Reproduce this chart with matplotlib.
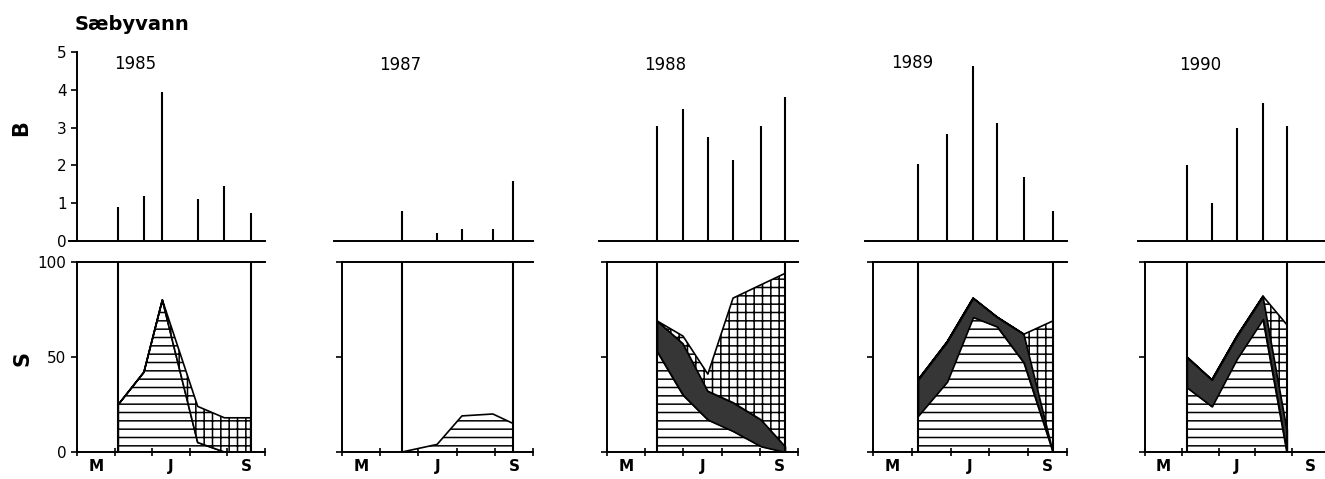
import matplotlib.pyplot as plt
import numpy as np

# x in months: 5 = 1 May ... 10 = 1 Oct
years = ['1985', '1987', '1988', '1989', '1990']

dates_1985 = [6.10, 6.78, 7.27, 8.21, 8.92, 9.62]
dates_1987 = [6.57, 7.49, 8.14, 8.95, 9.48]
dates_1988 = [6.31, 6.99, 7.64, 8.30, 9.03, 9.66]
dates_1989 = [6.16, 6.91, 7.58, 8.20, 8.89, 9.64]
dates_1990 = [6.14, 6.82, 7.50, 8.21, 8.86]

# B (upper panels)
B_1985 = [0.9, 1.2, 3.95, 1.1, 1.45, 0.75]
B_1987 = [0.8, 0.22, 0.32, 0.32, 1.58]
B_1988 = [3.05, 3.5, 2.75, 2.15, 3.05, 3.8]
B_1989 = [2.05, 2.82, 4.62, 3.12, 1.7, 0.8]
B_1990 = [2.02, 1.0, 2.98, 3.65, 3.05]

# S (lower panels), stacked: horizontal hatch / dark / cross hatch
H_1985 = [25, 42, 80, 5, 0, 0]
D_1985 = [0, 0, 0, 0, 0, 0]
C_1985 = [0, 0, 0, 19, 18, 18]

H_1987 = [0, 4, 19, 20, 15]
D_1987 = [0, 0, 0, 0, 0]
C_1987 = [0, 0, 0, 0, 0]

H_1988 = [53, 30, 17, 11, 3, 0]
D_1988 = [16, 27, 15, 15, 14, 3]
C_1988 = [0, 4, 9, 55, 71, 91]

H_1989 = [19, 37, 71, 66, 47, 0]
D_1989 = [19, 21, 10, 5, 15, 0]
C_1989 = [0, 0, 0, 0, 0, 69]

H_1990 = [34, 24, 49, 70, 0]
D_1990 = [16, 14, 12, 12, 12]
C_1990 = [0, 0, 0, 0, 55]

dates = [dates_1985, dates_1987, dates_1988, dates_1989, dates_1990]
bvals = [B_1985, B_1987, B_1988, B_1989, B_1990]
hvals = [H_1985, H_1987, H_1988, H_1989, H_1990]
dvals = [D_1985, D_1987, D_1988, D_1989, D_1990]
cvals = [C_1985, C_1987, C_1988, C_1989, C_1990]

plt.rcParams['hatch.linewidth'] = 1.1

W, HT = 1325, 479
fig = plt.figure(figsize=(W / 100, HT / 100), dpi=100)

# panel placement in pixels
x0_px = [77, 342, 607, 873, 1145]
month_px = [37.6, 38.2, 38.2, 38.8, 36.75]
year_xy = [(135, 64), (400, 65), (665, 65), (912, 63), (1200, 65)]

for i in range(5):
    mw = month_px[i]

    # upper panel (B)
    ax1 = fig.add_axes([(x0_px[i] - 0.2 * mw) / W, (HT - 241) / HT,
                        5.2 * mw / W, 189 / HT])
    ax1.set_xlim(4.8, 10)
    ax1.set_ylim(0, 5)
    ax1.vlines(dates[i], 0, bvals[i], color='k', lw=1.5)
    ax1.spines['top'].set_visible(False)
    ax1.spines['right'].set_visible(False)
    ax1.spines['bottom'].set_linewidth(1.4)
    ax1.set_xticks([])
    ax1.patch.set_visible(False)
    if i == 0:
        ax1.spines['left'].set_position(('data', 5))
        ax1.spines['left'].set_linewidth(1.4)
        ax1.set_yticks(range(6))
        ax1.tick_params(axis='y', direction='out', length=4, width=1.2,
                        labelsize=11)
    else:
        ax1.spines['left'].set_visible(False)
        ax1.set_yticks([])

    # lower panel (S)
    ax2 = fig.add_axes([x0_px[i] / W, 27 / HT, 5 * mw / W, 190 / HT])
    ax2.set_xlim(5, 10)
    ax2.set_ylim(0, 100)
    x = np.array(dates[i])
    h = np.array(hvals[i])
    d = np.array(dvals[i])
    c = np.array(cvals[i])
    ax2.fill_between(x, 0, h, facecolor='white', edgecolor='k',
                     hatch='--', lw=1.2)
    if d.sum() > 0:
        ax2.fill_between(x, h, h + d, facecolor='#363636', edgecolor='k',
                         lw=1.2)
    if c.sum() > 0:
        ax2.fill_between(x, h + d, h + d + c, facecolor='white',
                         edgecolor='k', hatch='++', lw=1.2)
    ax2.vlines([x[0], x[-1]], 0, 100, color='k', lw=1.5)
    ax2.spines['right'].set_visible(False)
    for s in ['top', 'left', 'bottom']:
        ax2.spines[s].set_linewidth(1.4)
    ax2.set_xticks(range(5, 11))
    ax2.set_xticklabels([])
    ax2.set_xticks([5.5, 7.5, 9.5], minor=True)
    ax2.set_xticklabels(['M', 'J', 'S'], minor=True, fontweight='bold')
    ax2.tick_params(axis='x', which='major', direction='inout', length=6,
                    width=1.2)
    ax2.tick_params(axis='x', which='minor', length=0, labelsize=11, pad=5)
    ax2.set_yticks([0, 50, 100])
    if i == 0:
        ax2.set_yticklabels(['0', '50', '100'])
    else:
        ax2.set_yticklabels([])
    ax2.tick_params(axis='y', direction='out', length=4, width=1.2,
                    labelsize=11)

    fig.text(year_xy[i][0] / W, 1 - year_xy[i][1] / HT, years[i],
             ha='center', va='center', fontsize=12)

fig.text(75 / W, 1 - 25 / HT, 'Sæbyvann', ha='left', va='center',
         fontsize=14, fontweight='bold')
fig.text(21 / W, 1 - 128 / HT, 'B', ha='center', va='center',
         fontsize=15, fontweight='bold', rotation=90)
fig.text(22 / W, 1 - 358 / HT, 'S', ha='center', va='center',
         fontsize=15, fontweight='bold', rotation=90)

fig.savefig('out.png', dpi=100)
